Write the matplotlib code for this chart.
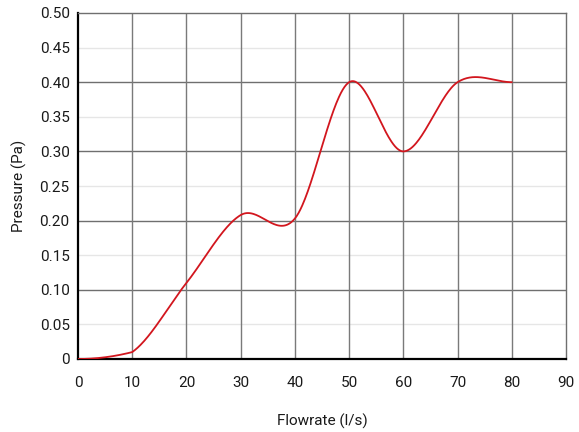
import numpy as np
import matplotlib
matplotlib.use("Agg")
import matplotlib.pyplot as plt
from matplotlib.ticker import FuncFormatter

plt.rcParams['font.family'] = ['Roboto', 'DejaVu Sans']

flowrate = [0, 10, 20, 30, 40, 50, 60, 70, 80]
pressure = [0.0, 0.01, 0.11, 0.208, 0.203, 0.40, 0.30, 0.40, 0.40]
x_ticks = [0, 10, 20, 30, 40, 50, 60, 70, 80, 90]
y_ticks = [0, 0.05, 0.10, 0.15, 0.20, 0.25, 0.30, 0.35, 0.40, 0.45, 0.50]


def smooth_curve(xs, ys, n=60):
    """Cubic Hermite (Catmull-Rom style) rendering through the data points."""
    xs = np.asarray(xs, float)
    ys = np.asarray(ys, float)
    m = np.zeros_like(ys)
    for i in range(1, len(xs) - 1):
        m[i] = (ys[i + 1] - ys[i - 1]) / (xs[i + 1] - xs[i - 1])
    out_x, out_y = [], []
    for i in range(len(xs) - 1):
        h = xs[i + 1] - xs[i]
        t = np.linspace(0, 1, n)
        m0 = m[i] * h
        m1 = m[i + 1] * h
        if i == 0:
            m1 = 2.0 * (ys[1] - ys[0])
        h00 = 2 * t**3 - 3 * t**2 + 1
        h10 = t**3 - 2 * t**2 + t
        h01 = -2 * t**3 + 3 * t**2
        h11 = t**3 - t**2
        out_x.append(xs[i] + t * h)
        out_y.append(h00 * ys[i] + h10 * m0 + h01 * ys[i + 1] + h11 * m1)
    return np.concatenate(out_x), np.concatenate(out_y)


fig = plt.figure(figsize=(5.79, 4.32), dpi=100)
ax = fig.add_axes([78 / 579, 1 - 359 / 432, (566 - 78) / 579, (359 - 13) / 432])

ax.set_xlim(0, 90)
ax.set_ylim(0, 0.5)

# grid
for k, v in enumerate(y_ticks):
    if k == 0 or k == len(y_ticks) - 1:
        continue
    major = (k % 2 == 0)
    ax.axhline(v, color='#6f6f6f' if major else '#e6e6e6', lw=1.0, zorder=1)
for v in x_ticks[1:-1]:
    ax.axvline(v, color='#7a7a7a', lw=1.0, zorder=1)

sx, sy = smooth_curve(flowrate, pressure)
ax.plot(sx, sy, color='#d2161e', lw=1.3, zorder=3, solid_capstyle='round')

ax.set_xticks(x_ticks)
ax.set_yticks(y_ticks)
ax.yaxis.set_major_formatter(FuncFormatter(lambda v, p: '0' if v == 0 else f'{v:.2f}'))
ax.tick_params(length=0, labelsize=11, colors='#1a1a1a')
ax.tick_params(axis='x', pad=12)
ax.tick_params(axis='y', pad=6)

for s in ('top', 'right'):
    ax.spines[s].set_color('#6f6f6f')
    ax.spines[s].set_linewidth(1.0)
for s in ('left', 'bottom'):
    ax.spines[s].set_color('#000000')
    ax.spines[s].set_linewidth(1.6)

ax.set_xlabel('Flowrate (l/s)', fontsize=11, color='#1a1a1a', labelpad=17)
ax.set_ylabel('Pressure (Pa)', fontsize=11, color='#1a1a1a', labelpad=9)

fig.savefig('out.png', dpi=100)
